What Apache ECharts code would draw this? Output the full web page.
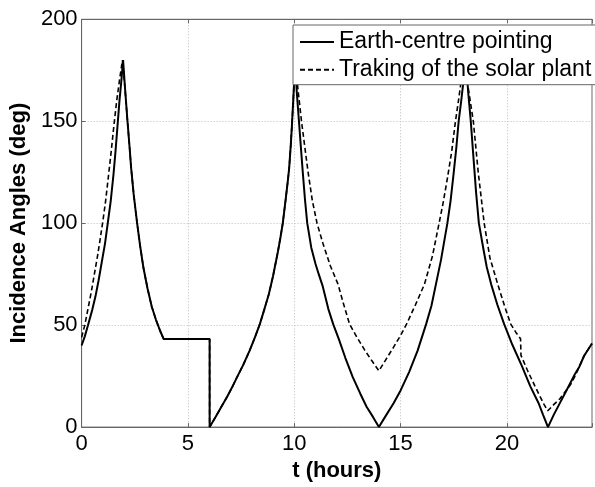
<!DOCTYPE html>
<html>
<head>
<meta charset="utf-8">
<script src="https://cdn.jsdelivr.net/npm/echarts@6/dist/echarts.min.js"></script>
<style>
html,body{margin:0;padding:0;background:#fff;}
#chart{width:595px;height:487px;}
</style>
</head>
<body>
<div id="chart"></div>
<script>
// Earth-centre pointing: t (hours) and incidence angle (deg)
const earthT = [0, 0.15, 0.3, 0.5, 0.65, 0.8, 0.95, 1.1, 1.23, 1.37, 1.5, 1.6, 1.69, 1.78, 1.87, 1.95,
  2.05, 2.15, 2.25, 2.33, 2.45, 2.61, 2.75, 2.91, 3.1, 3.3, 3.5, 3.7, 3.86, 6.02, 6.02,
  6.3, 6.6, 6.85, 7.1, 7.31, 7.6, 7.9, 8.15, 8.38, 8.6, 8.8, 9.0, 9.23, 9.35, 9.46, 9.6, 9.7, 9.76, 9.84, 9.89, 9.96, 10.04,
  10.12, 10.22, 10.32, 10.4, 10.5, 10.61, 10.8, 11.0, 11.15, 11.34, 11.6, 11.83, 12.1, 12.4, 12.75, 13.1, 13.4, 13.7, 13.98,
  14.3, 14.67, 15.0, 15.4, 15.8, 16.2, 16.45, 16.66, 16.9, 17.2, 17.35, 17.5, 17.62, 17.73, 17.85, 17.96, 18.07,
  18.18, 18.3, 18.42, 18.55, 18.68, 18.9, 19.05, 19.26, 19.55, 19.87, 20.25, 20.7, 21.1, 21.49, 21.7, 21.93,
  22.2, 22.5, 22.75, 23.0, 23.2, 23.4, 23.63, 24];
const earthA = [40, 44.5, 50, 57.5, 64, 72, 81, 90, 100, 111, 124, 136, 148, 160, 170, 180,
  165, 151, 138, 127, 114, 100, 89, 78, 68, 59, 52.5, 47, 43.2, 43.2, 0,
  5, 10.5, 15, 20, 24.5, 30.5, 37.5, 44, 50.5, 58, 65, 74, 86, 93, 100, 112, 121, 127, 139, 148, 162, 180,
  164, 150, 136, 125, 112, 100, 88, 80, 75, 69, 58, 50.5, 43, 34, 24.5, 16.5, 10, 5, 0,
  5.5, 11.7, 18, 27, 37.5, 50.5, 59.5, 70, 82, 100, 111, 125, 137, 150, 160, 170, 180,
  164, 150, 133, 115, 100, 87, 78.5, 70, 60, 50.5, 40.5, 30, 20, 11.7, 6, 0,
  6, 12, 17, 22, 26, 29.5, 35, 41];

// Tracking of the solar plant: t (hours) and incidence angle (deg)
const trackT = [0, 0.15, 0.3, 0.45, 0.6, 0.75, 0.87, 1.0, 1.13, 1.25, 1.4, 1.53, 1.65, 1.78, 1.92,
  2.05, 2.15, 2.25, 2.33, 2.45, 2.61, 2.75, 2.91, 3.1, 3.3, 3.5, 3.7, 3.86, 6.02, 6.02,
  6.3, 6.6, 6.85, 7.1, 7.31, 7.6, 7.9, 8.15, 8.38, 8.6, 8.8, 9.0, 9.23, 9.35, 9.46, 9.6, 9.7, 9.76, 9.84, 9.89, 9.96, 10.04,
  10.18, 10.34, 10.5, 10.65, 10.85, 11.07, 11.35, 11.7, 12.06, 12.3, 12.6, 12.95, 13.3, 13.65, 13.98,
  14.3, 14.67, 15.0, 15.28, 15.7, 16.12, 16.5, 16.81, 17.0, 17.2, 17.4, 17.58, 17.72, 17.85, 17.96,
  18.2, 18.42, 18.65, 18.93, 19.2, 19.57, 19.9, 20.18, 20.45, 20.64, 20.66, 21.0, 21.3, 21.56, 21.75, 21.92,
  22.2, 22.5, 22.75, 23.0, 23.2, 23.4, 23.63, 24];
const trackA = [44, 50, 58, 66, 75, 84, 92, 101, 111, 122, 136, 149, 160, 170, 180,
  165, 151, 138, 127, 114, 100, 89, 78, 68, 59, 52.5, 47, 43.2, 43.2, 0,
  5, 10.5, 15, 20, 24.5, 30.5, 37.5, 44, 50.5, 58, 65, 74, 86, 93, 100, 112, 121, 127, 139, 148, 162, 180,
  165, 150, 137, 125, 111, 100, 90, 79, 70, 61, 50.5, 44, 38, 32.5, 27.6,
  33, 39.2, 45, 50.5, 60, 70, 84, 100, 110, 122, 135, 150, 160, 170, 180,
  165, 150, 125, 100, 83, 70, 59, 50.5, 46, 43.3, 35.2, 27, 20.5, 14.9, 11, 8,
  11, 14, 17.5, 21, 25, 29.5, 35, 41];

const seriesNames = ['Earth-centre pointing', 'Traking of the solar plant'];
const xTicks = [0, 5, 10, 15, 20];
const yTicks = [0, 50, 100, 150, 200];

const pair = (ts, as) => ts.map((t, i) => [t, as[i]]);

const FONT = 'Liberation Sans, Arial, sans-serif';
const chart = echarts.init(document.getElementById('chart'), null, {renderer: 'canvas'});

const axisLineStyle = {color: '#666', width: 1};
chart.setOption({
  animation: false,
  backgroundColor: '#fff',
  grid: {left: 81, right: -8, top: 19.3, bottom: 56.3, show: true, borderColor: '#666', borderWidth: 1, containLabel: false},
  xAxis: [{
    type: 'value', min: 0, max: 24, interval: 5,
    name: 't (hours)', nameLocation: 'middle', nameGap: 28,
    nameTextStyle: {fontFamily: FONT, fontSize: 22, fontWeight: 'bold', color: '#000'},
    axisLine: {show: true, lineStyle: axisLineStyle},
    axisTick: {show: true, inside: true, length: 4, lineStyle: axisLineStyle},
    axisLabel: {fontFamily: FONT, fontSize: 22, color: '#000', margin: 6,
      formatter: v => xTicks.includes(v) ? String(v) : ''},
    splitLine: {show: true, lineStyle: {color: '#bdbdbd', type: [1, 2], width: 1}}
  }, {
    type: 'value', min: 0, max: 24, interval: 5, position: 'top',
    axisLine: {show: true, lineStyle: axisLineStyle},
    axisTick: {show: true, inside: true, length: 4, lineStyle: axisLineStyle},
    axisLabel: {show: false}, splitLine: {show: false}
  }],
  yAxis: {
    type: 'value', min: 0, max: 200, interval: 50,
    name: 'Incidence Angles (deg)', nameLocation: 'middle', nameGap: 47,
    nameTextStyle: {fontFamily: FONT, fontSize: 22, fontWeight: 'bold', color: '#000'},
    axisLine: {show: true, lineStyle: axisLineStyle},
    axisTick: {show: true, inside: true, length: 4, lineStyle: axisLineStyle},
    axisLabel: {fontFamily: FONT, fontSize: 22, color: '#000', margin: 4,
      formatter: v => yTicks.includes(v) ? String(v) : ''},
    splitLine: {show: true, lineStyle: {color: '#bdbdbd', type: [1, 2], width: 1}}
  },
  legend: {
    data: seriesNames, orient: 'vertical', left: 293, top: 25,
    backgroundColor: '#fff', borderColor: '#666', borderWidth: 1, borderRadius: 0,
    padding: [5, 8, 3, 6], itemWidth: 34, itemHeight: 2, itemGap: 3.7,
    itemStyle: {opacity: 0},
    textStyle: {fontFamily: FONT, fontSize: 23, color: '#000', lineHeight: 24}
  },
  series: [{
    name: seriesNames[0], type: 'line', data: pair(earthT, earthA),
    symbol: 'none', smooth: false,
    lineStyle: {color: '#000', width: 2, type: 'solid'},
    itemStyle: {color: '#000'}
  }, {
    name: seriesNames[1], type: 'line', data: pair(trackT, trackA),
    symbol: 'none', smooth: false,
    lineStyle: {color: '#000', width: 1.6, type: [5, 3]},
    itemStyle: {color: '#000'}
  }]
});
</script>
</body>
</html>
